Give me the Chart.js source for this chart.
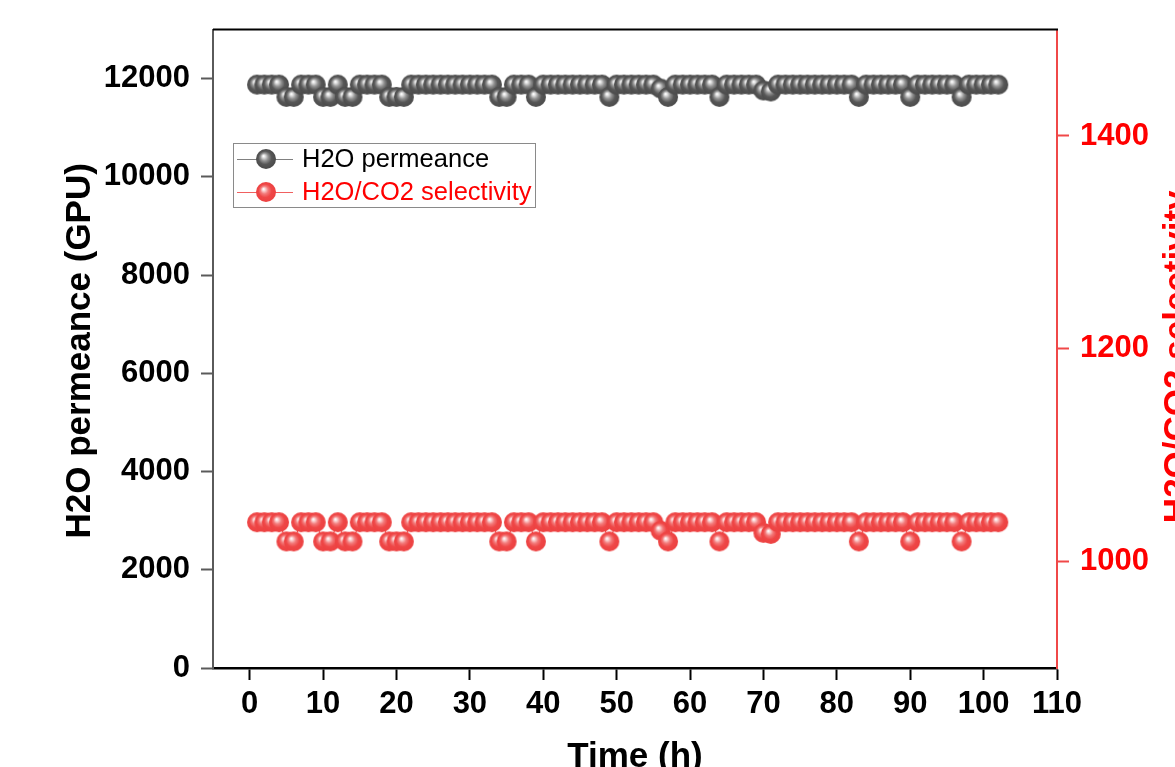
<!DOCTYPE html>
<html><head><meta charset="utf-8">
<script src="https://cdn.jsdelivr.net/npm/chart.js@4.4.1/dist/chart.umd.min.js"></script>
<style>html,body{margin:0;padding:0;background:#fff;overflow:hidden}canvas{display:block}</style>
</head><body>
<canvas id="c" width="1175" height="767"></canvas>
<script>
// ---- data ----
const hours = [
  1,2,3,4,5,6,7,8,9,10,
  11,12,13,14,15,16,17,18,19,20,
  21,22,23,24,25,26,27,28,29,30,
  31,32,33,34,35,36,37,38,39,40,
  41,42,43,44,45,46,47,48,49,50,
  51,52,53,54,55,56,57,58,59,60,
  61,62,63,64,65,66,67,68,69,70,
  71,72,73,74,75,76,77,78,79,80,
  81,82,83,84,85,86,87,88,89,90,
  91,92,93,94,95,96,97,98,99,100,
  101,102
];
const permeance = [
  11880,11880,11880,11880,11630,11630,11880,11880,11880,11630,
  11630,11880,11630,11630,11880,11880,11880,11880,11630,11630,
  11630,11880,11880,11880,11880,11880,11880,11880,11880,11880,
  11880,11880,11880,11630,11630,11880,11880,11880,11630,11880,
  11880,11880,11880,11880,11880,11880,11880,11880,11630,11880,
  11880,11880,11880,11880,11880,11800,11630,11880,11880,11880,
  11880,11880,11880,11630,11880,11880,11880,11880,11880,11760,
  11740,11880,11880,11880,11880,11880,11880,11880,11880,11880,
  11880,11880,11630,11880,11880,11880,11880,11880,11880,11630,
  11880,11880,11880,11880,11880,11880,11630,11880,11880,11880,
  11880,11880
];
const selectivity = [
  1037,1037,1037,1037,1019,1019,1037,1037,1037,1019,
  1019,1037,1019,1019,1037,1037,1037,1037,1019,1019,
  1019,1037,1037,1037,1037,1037,1037,1037,1037,1037,
  1037,1037,1037,1019,1019,1037,1037,1037,1019,1037,
  1037,1037,1037,1037,1037,1037,1037,1037,1019,1037,
  1037,1037,1037,1037,1037,1029,1019,1037,1037,1037,
  1037,1037,1037,1019,1037,1037,1037,1037,1037,1027,
  1026,1037,1037,1037,1037,1037,1037,1037,1037,1037,
  1037,1037,1019,1037,1037,1037,1037,1037,1037,1019,
  1037,1037,1037,1037,1037,1037,1019,1037,1037,1037,
  1037,1037
];
const xTicks = [0,10,20,30,40,50,60,70,80,90,100,110];
const yTicks = [0,2000,4000,6000,8000,10000,12000];
const y1Ticks = [1000,1200,1400];
const seriesNames = ['H2O permeance','H2O/CO2 selectivity'];
const xTitle = 'Time (h)';
const yTitle = 'H2O permeance (GPU)';
const y1Title = 'H2O/CO2 selectivity';

// ---- shaded sphere markers ----
function sphere(stops){
  const c = document.createElement('canvas');
  c.width = 22; c.height = 22;
  const g = c.getContext('2d');
  const grad = g.createRadialGradient(8.5, 8, 0.3, 11, 11, 10.5);
  stops.forEach(s => grad.addColorStop(s[0], s[1]));
  g.beginPath(); g.arc(11, 11, 10, 0, Math.PI*2);
  g.fillStyle = grad; g.fill();
  return c;
}
const graySphere = sphere([[0,'#ffffff'],[0.12,'#e0e0e0'],[0.35,'#939393'],[0.62,'#575757'],[1,'#484848']]);
const redSphere  = sphere([[0,'#ffffff'],[0.12,'#fbd4d4'],[0.35,'#f37a7a'],[0.62,'#ef4747'],[1,'#ec4040']]);

const tickFont = {family:'"Liberation Sans", Arial, sans-serif', weight:'bold', size:31};
const plainLabel = v => String(v);

const decor = {
  id:'decor',
  afterDraw(chart){
    const {ctx, chartArea:a} = chart;
    ctx.save();
    // top frame line
    ctx.strokeStyle = '#000'; ctx.lineWidth = 2;
    ctx.beginPath(); ctx.moveTo(a.left, a.top); ctx.lineTo(a.right + 1, a.top); ctx.stroke();
    // axis titles
    const cy = (a.top + a.bottom) / 2;
    ctx.font = 'bold 35px "Liberation Sans", Arial, sans-serif';
    ctx.textAlign = 'center'; ctx.textBaseline = 'alphabetic';
    ctx.fillStyle = '#000';
    ctx.save(); ctx.translate(90, cy + 2); ctx.rotate(-Math.PI/2); ctx.fillText(yTitle, 0, 0); ctx.restore();
    ctx.fillText(xTitle, (a.left + a.right) / 2, 767);
    ctx.fillStyle = '#ff0000';
    ctx.save(); ctx.translate(1188, cy + 8); ctx.rotate(-Math.PI/2); ctx.fillText(y1Title, 0, 0); ctx.restore();
    // legend
    ctx.fillStyle = '#fff'; ctx.fillRect(233, 143, 302, 64);
    ctx.strokeStyle = '#8a8a8a'; ctx.lineWidth = 1; ctx.strokeRect(233.5, 143.5, 302, 64);
    const rows = [[159, '#808080', graySphere, '#000'], [192, '#f06060', redSphere, '#ff0000']];
    ctx.font = '25.5px "Liberation Sans", Arial, sans-serif';
    ctx.textAlign = 'left'; ctx.textBaseline = 'middle';
    rows.forEach((r, i) => {
      ctx.strokeStyle = r[1]; ctx.lineWidth = 1;
      ctx.beginPath(); ctx.moveTo(237, r[0] + 0.5); ctx.lineTo(293, r[0] + 0.5); ctx.stroke();
      ctx.drawImage(r[2], 266 - 11, r[0] - 11);
      ctx.fillStyle = r[3];
      ctx.fillText(seriesNames[i], 302, r[0] + 1);
    });
    ctx.restore();
  }
};

new Chart(document.getElementById('c'), {
  type: 'line',
  data: {
    datasets: [
      {label: seriesNames[0], data: hours.map((h, i) => ({x: h, y: permeance[i]})), yAxisID: 'y',
       borderColor: '#666', borderWidth: 1, pointStyle: graySphere, pointRadius: 10, pointHoverRadius: 10, fill: false, tension: 0},
      {label: seriesNames[1], data: hours.map((h, i) => ({x: h, y: selectivity[i]})), yAxisID: 'y1',
       borderColor: '#f05050', borderWidth: 1, pointStyle: redSphere, pointRadius: 10, pointHoverRadius: 10, fill: false, tension: 0}
    ]
  },
  options: {
    responsive: false, animation: false, events: [],
    layout: {padding: {top: 27, left: 0, right: 0, bottom: 0}},
    plugins: {legend: {display: false}, tooltip: {enabled: false}},
    scales: {
      x: {
        type: 'linear', position: 'bottom', min: -5, max: 110,
        afterBuildTicks: s => { s.ticks = xTicks.map(v => ({value: v})); },
        afterFit: s => { s.height = 99; },
        grid: {drawOnChartArea: false, tickLength: 12, tickColor: '#000', tickWidth: 2},
        border: {color: '#000', width: 2.5},
        ticks: {color: '#000', font: tickFont, padding: 6, maxRotation: 0, autoSkip: false, callback: plainLabel}
      },
      y: {
        type: 'linear', position: 'left', min: 0, max: 13000,
        afterBuildTicks: s => { s.ticks = yTicks.map(v => ({value: v})); },
        afterFit: s => { s.width = 213; },
        grid: {drawOnChartArea: false, tickLength: 12, tickColor: '#5a5a5a', tickWidth: 2},
        border: {color: '#5a5a5a', width: 2},
        ticks: {color: '#000', font: tickFont, padding: 11, callback: plainLabel}
      },
      y1: {
        type: 'linear', position: 'right', min: 900, max: 1500,
        afterBuildTicks: s => { s.ticks = y1Ticks.map(v => ({value: v})); },
        afterFit: s => { s.width = 118; },
        grid: {drawOnChartArea: false, tickLength: 12, tickColor: '#f04848', tickWidth: 2},
        border: {color: '#f04848', width: 2},
        ticks: {color: '#ff0000', font: tickFont, padding: 11, callback: plainLabel}
      }
    }
  },
  plugins: [decor]
});
</script>
</body></html>
